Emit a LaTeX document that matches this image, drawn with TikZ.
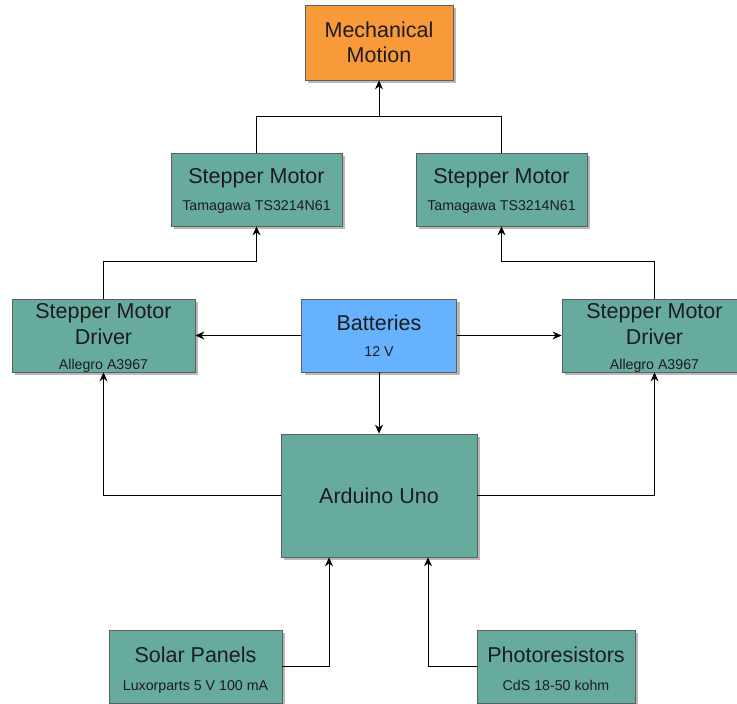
\documentclass[tikz,border=0pt]{standalone}
\usepackage{fontspec}
\setmainfont{Liberation Sans}
\usetikzlibrary{shadows,arrows.meta}
\definecolor{boxteal}{HTML}{67AB9F}
\definecolor{boxorange}{HTML}{F89A3A}
\definecolor{boxblue}{HTML}{66B2FF}
\definecolor{edgegray}{HTML}{5E5E5E}
\definecolor{txtdark}{HTML}{1C1C1C}
\begin{document}
\begin{tikzpicture}[x=1pt,y=-1pt,
  blk/.style={draw=edgegray, line width=0.8pt, fill=boxteal, inner sep=0pt,
    drop shadow={shadow xshift=3pt, shadow yshift=-3pt, fill=black, opacity=0.28}},
  ttl/.style={anchor=base, inner sep=0pt, text=txtdark, font=\fontsize{21.5}{26}\selectfont},
  sub/.style={anchor=base, inner sep=0pt, text=txtdark, font=\fontsize{14.2}{17}\selectfont},
  con/.style={draw=black, line width=0.8pt, -{Stealth[length=9pt,width=8pt,inset=3pt]}},
  lin/.style={draw=black, line width=0.8pt}]
\useasboundingbox (0,0) rectangle (737,704);

% boxes
\node[blk, fill=boxorange, minimum width=148pt, minimum height=75pt] (mech) at (379,42.5) {};
\node[blk, minimum width=171pt, minimum height=73pt] (lstep) at (256.5,189.5) {};
\node[blk, minimum width=171pt, minimum height=73pt] (rstep) at (501.5,189.5) {};
\node[blk, minimum width=183pt, minimum height=73pt] (ldrv) at (103.5,335.5) {};
\node[blk, fill=boxblue, minimum width=155pt, minimum height=73pt] (batt) at (379,335.5) {};
\node[blk, minimum width=185pt, minimum height=73pt] (rdrv) at (654.5,335.5) {};
\node[blk, minimum width=196pt, minimum height=123pt] (ard) at (379,495.5) {};
\node[blk, minimum width=173pt, minimum height=73pt] (solar) at (195.5,666.5) {};
\node[blk, minimum width=158pt, minimum height=73pt] (photo) at (556,666.5) {};

% texts
\node[ttl] (mechA) at (379,37.5) {Mechanical};
\node[ttl] (mechB) at (379,62.5) {Motion};
\node[ttl] (lstepA) at (256.5,183.5) {Stepper Motor};
\node[sub] (lstepB) at (256.5,210) {Tamagawa TS3214N61};
\node[ttl] (rstepA) at (501.5,183.5) {Stepper Motor};
\node[sub] (rstepB) at (501.5,210) {Tamagawa TS3214N61};
\node[ttl] (ldrvA) at (103.5,318.5) {Stepper Motor};
\node[ttl] (ldrvB) at (103.5,344.5) {Driver};
\node[sub] (ldrvC) at (103.5,369.5) {Allegro A3967};
\node[ttl] (rdrvA) at (654.5,318.5) {Stepper Motor};
\node[ttl] (rdrvB) at (654.5,344.5) {Driver};
\node[sub] (rdrvC) at (654.5,369.5) {Allegro A3967};
\node[ttl] (battA) at (379,330.5) {Batteries};
\node[sub] (battB) at (379,356) {12 V};
\node[ttl] (ardA) at (379,503) {Arduino Uno};
\node[ttl] (solarA) at (195.5,662) {Solar Panels};
\node[sub] (solarB) at (195.5,690) {Luxorparts 5 V 100 mA};
\node[ttl] (photoA) at (556,662) {Photoresistors};
\node[sub] (photoB) at (556,690) {CdS 18-50 kohm};

% connectors
\coordinate (mj) at (379,116);
\draw[con] (batt.south) -- (ard.north);
\draw[con] (batt.west) -- (ldrv.east);
\draw[con] (batt.east) -- (rdrv.west);
\draw[con] (ard.west) -| (ldrv.south);
\draw[con] (ard.east) -| (rdrv.south);
\draw[con] (ldrv.north) -- ++(0,-37) -| (lstep.south);
\draw[con] (rdrv.north) -- ++(0,-37) -| (rstep.south);
\draw[con] (lstep.north) |- (mj) -- (mech.south);
\draw[lin] (rstep.north) |- (mj);
\draw[con] (solar.east) -| ([xshift=-50pt]ard.south);
\draw[con] (photo.west) -| ([xshift=49pt]ard.south);
\end{tikzpicture}
\end{document}
